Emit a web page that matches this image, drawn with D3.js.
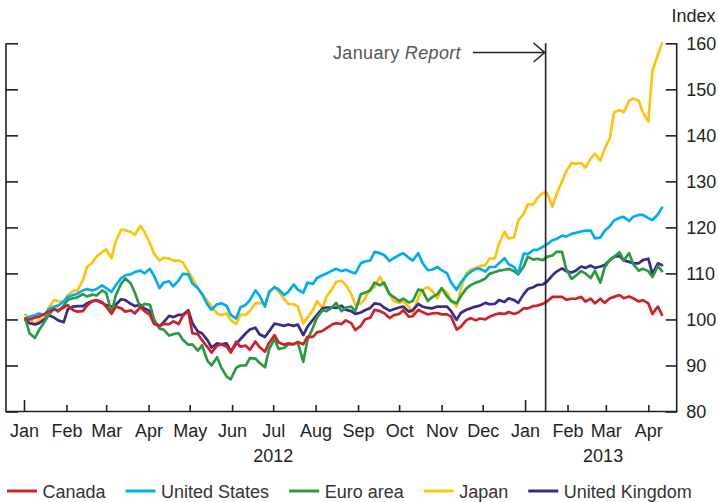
<!DOCTYPE html>
<html><head><meta charset="utf-8">
<script src="https://cdn.jsdelivr.net/npm/d3@7"></script>
<style>html,body{margin:0;padding:0;background:#fff}svg{display:block}text{font-family:"Liberation Sans",Arial,Helvetica,sans-serif}</style>
</head><body><svg id="c" width="718" height="502"></svg>
<script>
const dates = [
"2012-01-02","2012-01-05","2012-01-09","2012-01-12","2012-01-16","2012-01-19","2012-01-23","2012-01-26","2012-01-30","2012-02-02",
"2012-02-06","2012-02-09","2012-02-13","2012-02-16","2012-02-20","2012-02-23","2012-02-27","2012-03-01","2012-03-05","2012-03-08",
"2012-03-12","2012-03-15","2012-03-19","2012-03-22","2012-03-26","2012-03-29","2012-04-02","2012-04-05","2012-04-09","2012-04-12",
"2012-04-16","2012-04-19","2012-04-23","2012-04-26","2012-04-30","2012-05-03","2012-05-07","2012-05-10","2012-05-14","2012-05-17",
"2012-05-21","2012-05-24","2012-05-28","2012-05-31","2012-06-04","2012-06-07","2012-06-11","2012-06-14","2012-06-18","2012-06-21",
"2012-06-25","2012-06-28","2012-07-02","2012-07-05","2012-07-09","2012-07-12","2012-07-16","2012-07-19","2012-07-23","2012-07-26",
"2012-07-30","2012-08-02","2012-08-06","2012-08-09","2012-08-13","2012-08-16","2012-08-20","2012-08-23","2012-08-27","2012-08-30",
"2012-09-03","2012-09-06","2012-09-10","2012-09-13","2012-09-17","2012-09-20","2012-09-24","2012-09-27","2012-10-01","2012-10-04",
"2012-10-08","2012-10-11","2012-10-15","2012-10-18","2012-10-22","2012-10-25","2012-10-29","2012-11-01","2012-11-05","2012-11-08",
"2012-11-12","2012-11-15","2012-11-19","2012-11-22","2012-11-26","2012-11-29","2012-12-03","2012-12-06","2012-12-10","2012-12-13",
"2012-12-17","2012-12-20","2012-12-24","2012-12-27","2012-12-31","2013-01-03","2013-01-07","2013-01-10","2013-01-14","2013-01-17",
"2013-01-21","2013-01-24","2013-01-28","2013-01-31","2013-02-04","2013-02-07","2013-02-11","2013-02-14","2013-02-18","2013-02-21",
"2013-02-25","2013-02-28","2013-03-04","2013-03-07","2013-03-11","2013-03-14","2013-03-18","2013-03-21","2013-03-25","2013-03-28",
"2013-04-01","2013-04-04","2013-04-08","2013-04-11"];

const canada = [
100.2,100.0,100.4,100.6,101.2,101.7,102.2,102.0,102.6,103.1,
102.0,101.7,101.8,103.0,104.0,104.2,103.8,102.8,101.2,102.8,
102.4,101.7,102.0,101.3,102.7,101.8,101.0,99.0,98.6,99.0,
99.0,99.6,99.0,100.8,101.8,97.0,96.8,95.5,94.0,92.8,
94.3,94.6,94.1,92.8,95.2,94.1,94.3,93.4,95.2,94.0,
93.0,94.9,96.6,95.0,94.5,94.8,94.6,95.1,94.6,96.2,
96.2,97.2,97.5,98.1,98.9,99.2,99.0,99.8,99.2,97.7,
98.6,100.0,100.4,102.1,101.8,101.4,100.3,100.9,101.2,102.0,
100.6,100.7,102.1,101.6,101.1,101.3,101.4,101.1,101.1,100.6,
97.8,98.4,99.8,100.3,99.8,100.2,100.0,100.6,101.1,101.3,
101.2,101.6,101.2,101.5,102.4,102.4,102.9,103.0,103.4,103.9,
104.9,104.9,104.9,104.3,104.5,104.5,104.9,103.9,104.5,103.5,
104.5,103.6,104.6,104.9,105.3,104.6,105.0,104.6,103.9,104.2,
103.5,101.2,102.8,101.0];

const unitedStates = [
100.2,100.6,100.9,101.3,101.0,102.2,102.8,103.0,103.9,104.9,
105.3,105.6,106.3,106.6,106.3,106.6,107.4,106.8,106.0,107.4,
109.0,109.6,109.8,110.3,110.6,110.0,111.0,109.5,106.8,108.0,
108.3,107.2,108.5,109.9,109.8,107.8,106.8,105.5,103.2,102.1,
103.3,103.5,103.0,101.0,100.2,102.6,103.2,104.2,106.3,105.2,
102.8,106.0,107.0,106.5,105.3,106.0,107.6,106.5,105.8,108.0,
107.7,109.0,109.6,110.0,110.6,111.0,110.5,110.8,110.3,110.0,
112.2,112.6,112.8,114.7,114.4,114.0,112.7,113.3,114.0,114.4,
113.4,112.8,114.4,112.3,110.7,110.8,111.4,110.7,110.0,108.0,
106.4,108.0,109.5,110.3,111.0,111.0,110.4,111.4,111.4,112.2,
113.3,112.0,111.4,110.0,114.3,114.2,115.1,115.1,115.8,116.3,
117.2,117.5,118.2,118.0,118.6,118.8,119.1,119.3,119.3,117.6,
117.8,119.2,120.3,121.5,122.1,122.3,121.4,122.3,122.7,122.7,
122.0,121.6,122.8,124.3];

const euroArea = [
100.2,97.0,96.0,97.7,99.5,101.0,102.3,101.7,103.0,104.3,
104.6,104.8,105.5,105.0,105.4,105.2,106.3,105.8,101.5,105.2,
107.8,108.9,107.8,105.8,102.5,103.4,103.2,100.0,98.0,97.8,
96.5,96.8,97.0,95.6,94.5,94.6,93.2,94.4,91.0,90.0,
91.8,89.6,87.6,87.0,89.5,90.0,90.0,91.6,91.5,90.6,
89.6,93.5,95.8,93.6,93.8,94.6,94.7,95.0,90.8,95.5,
98.2,100.4,102.0,101.8,102.6,103.6,101.8,102.6,102.8,101.8,
105.5,105.8,106.3,108.0,107.4,108.0,105.5,104.9,104.0,104.5,
103.7,104.0,106.5,106.3,104.0,104.8,105.5,106.8,105.0,104.0,
103.5,105.0,106.7,107.4,108.0,108.3,108.9,109.9,110.3,110.6,
110.8,111.0,110.5,109.8,111.5,113.6,113.0,113.2,112.9,113.6,
113.9,114.7,114.7,111.0,108.8,109.5,110.5,110.0,109.0,110.6,
108.0,111.2,113.0,113.6,114.6,112.8,114.4,112.0,110.6,111.0,
110.5,109.2,111.6,110.5];

const japan = [
101.0,100.2,99.0,99.8,100.2,102.5,104.2,104.0,103.7,105.3,
106.2,106.3,108.5,111.4,112.4,113.7,114.6,115.2,113.3,117.0,
119.5,119.4,119.0,118.4,120.3,119.0,116.5,114.3,112.8,113.4,
113.2,112.8,112.8,112.4,110.4,109.0,106.8,105.6,104.0,102.8,
101.3,101.0,101.3,99.9,99.0,101.0,101.0,101.9,103.5,103.6,
103.3,105.6,107.1,106.0,104.5,103.4,103.3,102.8,99.2,100.4,
102.0,104.0,102.5,105.0,106.6,108.2,108.4,107.5,105.5,103.2,
103.5,104.5,106.8,107.0,109.3,107.5,105.5,104.0,103.6,103.9,
102.8,101.3,104.8,106.5,107.0,106.2,104.6,106.8,105.8,104.2,
102.8,106.6,110.0,110.8,111.2,111.6,111.8,113.2,113.3,116.5,
119.0,117.6,117.8,121.5,123.0,125.0,125.0,126.4,127.5,127.5,
124.5,127.2,130.0,132.2,134.0,133.8,134.0,133.0,135.0,136.0,
134.5,137.0,139.5,145.0,145.5,145.0,147.5,148.0,147.5,145.0,
143.0,154.0,157.5,160.0];

const unitedKingdom = [
99.9,99.2,98.9,99.2,100.0,100.9,100.4,99.8,99.4,102.2,
102.8,102.9,102.9,103.5,104.0,104.1,103.6,103.1,102.8,103.2,
104.4,104.2,103.4,102.9,103.2,102.4,101.8,99.5,98.5,99.4,
100.8,100.5,101.0,101.0,102.0,99.2,97.4,97.0,95.5,93.9,
94.8,94.6,94.8,93.1,94.7,95.7,97.0,97.8,98.2,96.8,
96.2,97.4,99.1,98.9,98.6,98.9,98.6,98.9,96.6,98.4,
99.9,101.0,102.4,102.6,102.6,102.5,103.0,102.1,101.8,101.2,
101.5,102.0,102.5,103.5,103.3,102.6,101.9,102.2,102.6,102.8,
101.7,102.0,103.4,102.8,102.5,102.4,102.8,102.8,102.8,101.8,
99.9,101.4,102.1,102.4,102.8,103.0,103.6,103.3,103.4,104.2,
103.8,104.6,104.2,103.6,105.5,106.6,107.0,107.5,107.6,108.2,
109.6,110.4,111.1,110.5,110.2,110.6,111.5,111.2,111.7,111.2,
111.5,111.8,112.9,113.6,113.8,112.8,112.5,112.2,112.2,112.9,
113.2,109.9,112.2,111.8];

const seriesNames = ["Canada","United States","Euro area","Japan","United Kingdom"];
const seriesColors = ["#cc2229","#00aeef","#2a9a44","#ffc20e","#3d2a86"];
const yTicks = [80,90,100,110,120,130,140,150,160];
const monthTicks = ["2012-01-01","2012-02-01","2012-03-01","2012-04-01","2012-05-01","2012-06-01","2012-07-01","2012-08-01","2012-09-01","2012-10-01","2012-11-01","2012-12-01","2013-01-01","2013-02-01","2013-03-01","2013-04-01"];
const monthLabels = ["Jan","Feb","Mar","Apr","May","Jun","Jul","Aug","Sep","Oct","Nov","Dec","Jan","Feb","Mar","Apr"];
const yearLabels = ["2012","2013"];
const yearLabelDates = ["2012-07-01","2013-02-27"];
const reportDate = "2013-01-16";

const parse = d3.timeParse("%Y-%m-%d");
const values = [canada, unitedStates, euroArea, japan, unitedKingdom];
const svg = d3.select("#c");
const frameL = 6, frameR = 676.7;
const x = d3.scaleTime().domain([parse("2012-01-01"), parse("2013-04-01")]).range([24, 648.3]);
const y = d3.scaleLinear().domain([80,160]).range([411.5, 43.3]);
const ink = "#231f20";
const fs = 18;

const order = [3,4,2,1,0];
const line = d3.line().x(d=>x(d.date)).y(d=>y(d.v)).curve(d3.curveLinear);
order.forEach(si=>{
  const pts = dates.map((d,i)=>({date:parse(d), v:values[si][i]}));
  svg.append("path").datum(pts).attr("d", line)
    .attr("fill","none").attr("stroke", seriesColors[si]).attr("stroke-width",2.7)
    .attr("stroke-linejoin","round").attr("stroke-linecap","round");
});

const frame = svg.append("g").attr("stroke", ink).attr("stroke-width",1.6).attr("fill","none");
frame.append("line").attr("x1",frameL).attr("x2",frameL).attr("y1",y(160)).attr("y2",y(80));
frame.append("line").attr("x1",frameR).attr("x2",frameR).attr("y1",y(160)).attr("y2",y(80));
frame.append("line").attr("x1",frameL-0.8).attr("x2",frameR+0.8).attr("y1",y(80)).attr("y2",y(80));

const lAx = svg.append("g").attr("transform",`translate(${frameL},0)`)
  .call(d3.axisRight(y).tickValues(yTicks).tickSize(12).tickSizeOuter(0).tickFormat(""));
const rAx = svg.append("g").attr("transform",`translate(${frameR},0)`)
  .call(d3.axisLeft(y).tickValues(yTicks).tickSize(11).tickSizeOuter(0).tickFormat(""));
const rLab = svg.append("g").attr("transform",`translate(${frameR},0)`)
  .call(d3.axisRight(y).tickValues(yTicks).tickSize(0).tickPadding(9.5).tickFormat(d3.format("d")));
const bAx = svg.append("g").attr("transform",`translate(0,${y(80)})`)
  .call(d3.axisTop(x).tickValues(monthTicks.map(parse)).tickSize(6.5).tickSizeOuter(0).tickFormat(""));
bAx.selectAll(".tick line").filter(d=>d.getMonth()===0).attr("y2",-11.5);
const bLab = svg.append("g").attr("transform",`translate(0,${y(80)})`)
  .call(d3.axisBottom(x).tickValues(monthTicks.map(parse)).tickSize(0).tickPadding(12.5).tickFormat((d,i)=>monthLabels[i]));

[lAx,rAx,rLab,bAx,bLab].forEach(g=>{
  g.select(".domain").remove();
  g.selectAll(".tick line").attr("stroke",ink).attr("stroke-width",1.6);
  g.selectAll("text").attr("fill",ink).attr("font-size",fs)
    .attr("font-family",'"Liberation Sans",Arial,sans-serif');
});

svg.append("g").selectAll("text").data(yearLabels).join("text")
  .attr("x",(d,i)=>x(parse(yearLabelDates[i]))).attr("y",462).attr("text-anchor","middle")
  .attr("fill",ink).attr("font-size",fs).text(d=>d);

svg.append("text").attr("x",671.5).attr("y",21.5).attr("fill",ink).attr("font-size",fs).text("Index");

const rx = x(parse(reportDate));
svg.append("line").attr("x1",rx).attr("x2",rx).attr("y1",y(160)).attr("y2",y(80))
  .attr("stroke",ink).attr("stroke-width",1.6);
const ann = svg.append("text").attr("x",333).attr("y",58.5).attr("fill","#555")
  .attr("font-size",fs).attr("letter-spacing","0.35px");
ann.append("tspan").text("January ");
ann.append("tspan").attr("font-style","italic").text("Report");
svg.append("line").attr("x1",473).attr("x2",rx-1).attr("y1",52.5).attr("y2",52.5).attr("stroke",ink).attr("stroke-width",1.5);
svg.append("path").attr("d",`M${rx-12},${43}L${rx-1},${52.5}L${rx-12},${62}`)
  .attr("fill","none").attr("stroke",ink).attr("stroke-width",1.5);

const leg = svg.append("g");
let lx = 7;
seriesNames.forEach((n,i)=>{
  leg.append("line").attr("x1",lx).attr("x2",lx+30).attr("y1",491).attr("y2",491)
    .attr("stroke",seriesColors[i]).attr("stroke-width",3);
  const t = leg.append("text").attr("x",lx+35.5).attr("y",497.5).attr("fill","#333")
    .attr("font-size",fs).text(n);
  lx = lx + 35.5 + t.node().getComputedTextLength() + 20;
});
</script></body></html>
